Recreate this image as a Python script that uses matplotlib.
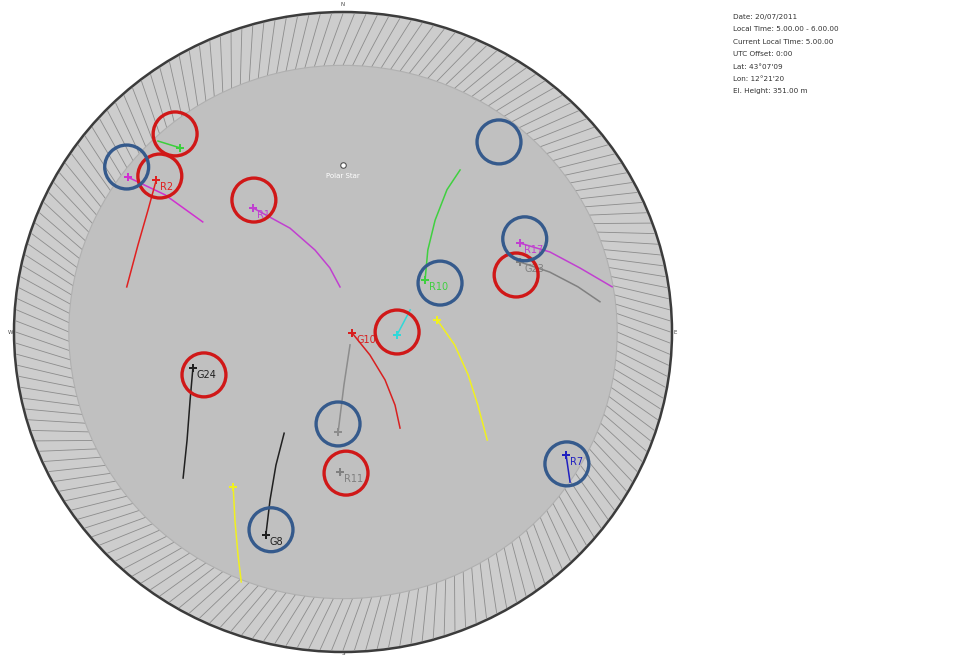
import numpy as np
import matplotlib.pyplot as plt
from matplotlib.patches import Circle

# satellite tracks: azimuth / elevation in degrees, first point = current position
sat_names = ['G?', 'R?', 'R2', 'R1', 'R10', 'R17', 'G23', 'C?', 'G10', 'G?2',
             'Y?', 'R11', 'G24', 'G8', 'Y?2', 'R7']
sat_labels = ['', '', 'R2', 'R1', 'R10', 'R17', 'G23', '', 'G10', '',
              '', 'R11', 'G24', 'G8', '', 'R7']
sat_az = [
    [319.3, 316.7],
    [306.5, 308.4, 308.9],
    [309.9, 302.7, 293.6, 282.1],
    [324.8, 333.6, 341.6, 348.7, 356.3],
    [56.9, 45.2, 38.7, 35.4, 35.1],
    [62.7, 68.3, 74.5, 80.2],
    [67.9, 73.4, 78.8, 83.1],
    [93.2, 71.3],
    [96.0, 131.3, 139.5, 145.3, 150.0],
    [182.7, 179.0, 152.0],
    [82.5, 96.9, 109.4, 119.1, 127.6],
    [181.2, 181.0],
    [256.1, 245.4, 234.5, 226.8],
    [200.3, 202.9, 206.1, 209.5],
    [214.6, 209.2, 204.6, 201.6],
    [119.5, 124.2],
]
sat_el = [
    [21.7, 16.2],
    [16.8, 27.9, 40.7],
    [23.4, 26.6, 28.8, 29.5],
    [47.3, 57.4, 65.7, 71.6, 77.3],
    [63.2, 57.3, 49.7, 40.9, 34.3],
    [35.5, 29.1, 22.7, 15.3],
    [37.7, 31.0, 24.5, 19.2],
    [75.2, 70.6],
    [87.5, 80.2, 72.3, 65.0, 58.8],
    [61.9, 75.1, 85.9],
    [64.0, 59.2, 53.7, 47.8, 40.2],
    [50.6, 50.0],
    [47.7, 44.0, 37.6, 30.0],
    [29.2, 38.7, 48.3, 57.3],
    [37.1, 29.4, 21.0, 14.4],
    [19.9, 14.9],
]
sat_colors = ['#3ccf3c', '#d030d0', '#e02020', '#c040d0', '#40d040', '#c040d0',
              '#808080', '#30d8d8', '#d82020', '#8c8c8c', '#f0f020', '#808080',
              '#202020', '#202020', '#f0f020', '#2020c0']

# highlighted satellites (hand drawn rings)
red_az = [320.5, 311.2, 326.7, 71.3, 90.0, 252.4, 178.8]
red_el = [17.8, 23.4, 45.6, 40.0, 75.2, 50.1, 50.3]
blue_az = [308.1, 38.6, 62.2, 62.6, 183.0, 121.2, 199.5]
blue_el = [14.8, 21.6, 33.8, 60.1, 64.1, 18.4, 31.0]

polar_az, polar_el = 0.0, 43.1
mask_el = 15.0

info = ['Date: 20/07/2011', 'Local Time: 5.00.00 - 6.00.00',
        'Current Local Time: 5.00.00', 'UTC Offset: 0:00',
        "Lat: 43°07'09", "Lon: 12°21'20", 'El. Height: 351.00 m']


def sky_xy(az, el):
    r = (90. - np.asarray(el, float)) / 90.
    a = np.radians(np.asarray(az, float))
    return r * np.sin(a), r * np.cos(a)


W, H = 978, 659
fig = plt.figure(figsize=(W / 100, H / 100), dpi=100)
ax = fig.add_axes([0, 0, 1, 1])
cx, cy, rx, ry = 343., 332., 329., 320.
ax.set_xlim(-cx / rx, (W - cx) / rx)
ax.set_ylim((cy - H) / ry, cy / ry)
ax.set_aspect('auto')
ax.axis('off')

r_in = (90 - mask_el) / 90.
ax.add_patch(Circle((0, 0), 1., fc='#cdcdcd', ec='#3c3c3c', lw=1.8, zorder=1))
for t in np.arange(0, 360, 2.):
    a0, a1 = np.radians(t), np.radians(t + 4)
    ax.plot([r_in * np.sin(a0), 0.995 * np.sin(a1)],
            [r_in * np.cos(a0), 0.995 * np.cos(a1)],
            color='#8c8c8c', lw=0.6, zorder=2)
ax.add_patch(Circle((0, 0), r_in, fc='#c0c0c0', ec='#b0b0b0', lw=0.8, zorder=3))

# compass letters
for s, (x, y) in zip('NESW', [(0, 1.025), (1.01, 0), (0, -1.005), (-1.01, 0)]):
    ax.text(x, y, s, fontsize=4, color='#444444', ha='center', va='center', zorder=4)

# polar star
px, py = sky_xy(polar_az, polar_el)
ax.plot(px, py, 'o', ms=4, mfc='white', mec='#505050', mew=0.8, zorder=5)
ax.text(px, py - 0.025, 'Polar Star', fontsize=5, color='white', ha='center',
        va='top', zorder=5)

# tracks
for i in range(len(sat_names)):
    x, y = sky_xy(sat_az[i], sat_el[i])
    c = sat_colors[i]
    ax.plot(x, y, color=c, lw=1.1, zorder=6)
    ax.plot(x[0], y[0], marker='P', ms=6, color=c, mew=0, zorder=7)
    if sat_labels[i]:
        ax.text(x[0] + 0.012, y[0] - 0.006, sat_labels[i], color=c, fontsize=7,
                ha='left', va='top', zorder=7)

# rings
rx_, ry_ = sky_xy(red_az, red_el)
ax.scatter(rx_, ry_, s=1000, facecolors='none', edgecolors='#d01818',
           linewidths=2.4, zorder=8)
bx_, by_ = sky_xy(blue_az, blue_el)
ax.scatter(bx_, by_, s=1000, facecolors='none', edgecolors='#355a8c',
           linewidths=2.4, zorder=8)

for k, line in enumerate(info):
    fig.text(733 / W, 1 - (17 + 12.4 * k) / H, line, fontsize=5.2,
             color='#333333', ha='left', va='center')

fig.savefig('out.png', dpi=100, facecolor='white')
